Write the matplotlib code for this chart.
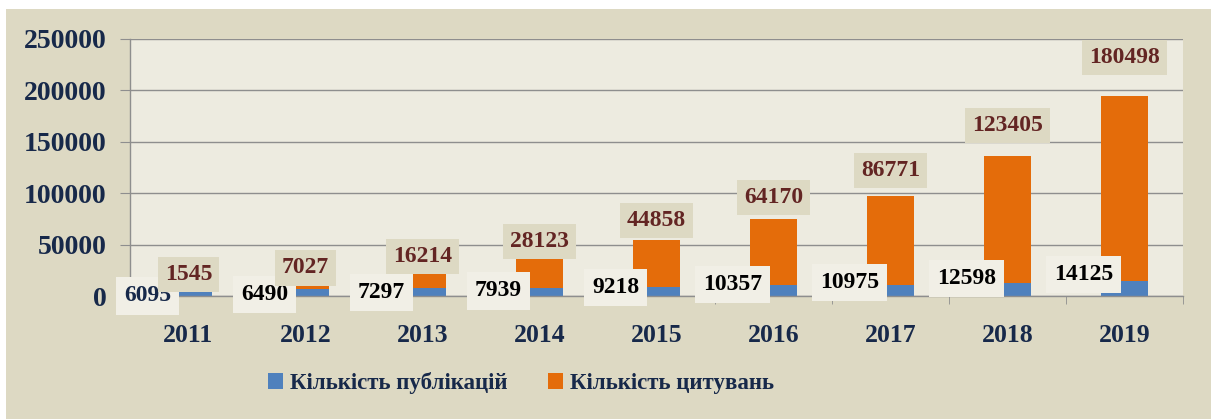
# publications vs citations per year, stacked bars

import numpy as np
import matplotlib
matplotlib.use('Agg')
import matplotlib.pyplot as plt
from matplotlib.patches import Rectangle, Patch

#%% data
years = ['2011', '2012', '2013', '2014', '2015', '2016', '2017', '2018', '2019']
publications = [6095, 6490, 7297, 7939, 9218, 10357, 10975, 12598, 14125]
citations = [1545, 7027, 16214, 28123, 44858, 64170, 86771, 123405, 180498]
series_names = ['Кількість публікацій', 'Кількість цитувань']

#%% colours
blue = '#4F81BD'
orange = '#E46C0A'
navy = '#17294A'
brown = '#632523'
beige = '#DDD9C3'
plot_bg = '#EDEBE0'
grid_col = '#8E8E8E'

plt.rcParams['font.family'] = ['Liberation Serif', 'DejaVu Serif']
plt.rcParams['font.weight'] = 'bold'

fig = plt.figure(figsize=(12.11, 4.19), dpi=100)
fig.patch.set_facecolor('white')
# beige frame behind everything
fig.patches.append(Rectangle((6/1211, 0), 1 - 6/1211, 1 - 9/419,
                             transform=fig.transFigure, facecolor=beige,
                             edgecolor='none', zorder=-10))

ax = fig.add_axes([130/1211, 1 - 296/419, 1053/1211, 257/419])
ax.set_facecolor(plot_bg)

x = np.arange(len(years))
pub = np.array(publications)
cit = np.array(citations)

ax.bar(x, pub, width=0.4, color=blue, zorder=2)
ax.bar(x, cit, width=0.4, bottom=pub, color=orange, zorder=2)

# axes + grid
ax.set_xlim(-0.5, len(years) - 0.5)
ax.set_ylim(0, 250000)
ax.set_yticks(np.arange(0, 250001, 50000))
ax.yaxis.grid(True, color=grid_col, linewidth=1.0, zorder=1)
ax.set_axisbelow(True)
for s in ['top', 'right']:
    ax.spines[s].set_visible(False)
for s in ['left', 'bottom']:
    ax.spines[s].set_color(grid_col)
    ax.spines[s].set_linewidth(1.0)

ax.tick_params(axis='y', length=7, color=grid_col, pad=10,
               labelsize=20, labelcolor=navy)
ax.set_xticks(x)
ax.set_xticklabels(years)
ax.tick_params(axis='x', length=0, pad=20, labelsize=18.5, labelcolor=navy)
ax.set_xticks(np.arange(-0.5, len(years)), minor=True)
ax.tick_params(axis='x', which='minor', length=6, color=grid_col)
for lab in ax.get_xticklabels() + ax.get_yticklabels():
    lab.set_fontweight('bold')

# data labels - publications (left of bar, light box)
for i in range(len(years)):
    col = navy if i == 0 else 'black'
    ax.text(x[i] - 0.35, (pub[i] - 6000) * 2.6, str(pub[i]),
            ha='center', va='center', fontsize=17, fontweight='bold', color=col,
            bbox=dict(boxstyle='square,pad=0.35', facecolor='#F1EFE6', edgecolor='none'),
            zorder=5, clip_on=False)

# data labels - citations (above bar, beige box)
for i in range(len(years)):
    tot = pub[i] + cit[i]
    ax.text(x[i], tot * 1.13 + 12000, str(cit[i]),
            ha='center', va='center', fontsize=17, fontweight='bold', color=brown,
            bbox=dict(boxstyle='square,pad=0.3', facecolor=beige, edgecolor='none'),
            zorder=5, clip_on=False)

# legend
handles = [Patch(facecolor=blue), Patch(facecolor=orange)]
leg = fig.legend(handles, series_names, loc='center',
                 bbox_to_anchor=(521/1211, 1 - 383/419), ncol=2, frameon=False,
                 prop={'size': 16.5, 'weight': 'bold'},
                 handlelength=0.65, handleheight=0.65, handletextpad=0.3,
                 columnspacing=1.8)
for t in leg.get_texts():
    t.set_color(navy)

plt.savefig('out.png', dpi=100)
